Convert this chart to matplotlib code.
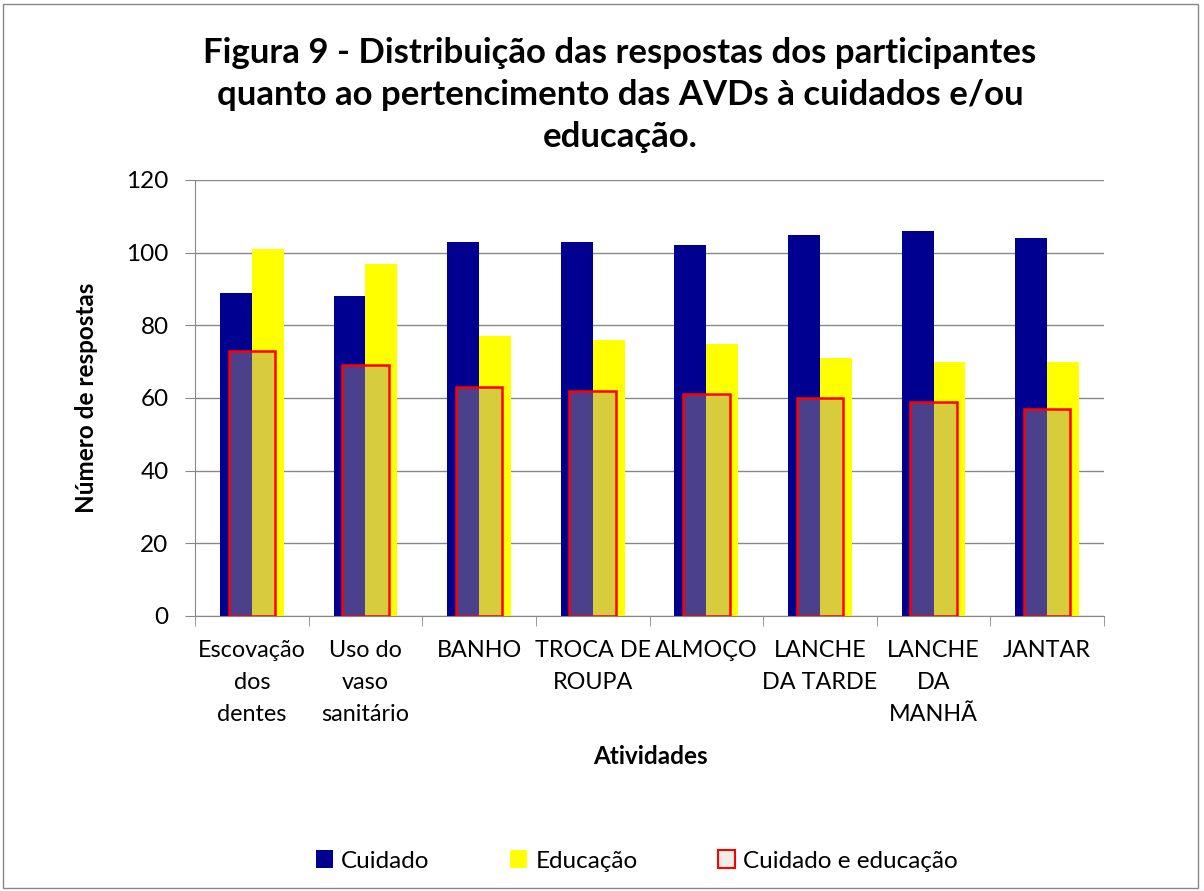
import matplotlib
matplotlib.use('Agg')
import matplotlib.pyplot as plt
import numpy as np
from matplotlib.patches import Rectangle, Patch

# Respostas por atividade
atividades = ['Escovação\ndos\ndentes', 'Uso do\nvaso\nsanitário', 'BANHO', 'TROCA DE\nROUPA',
              'ALMOÇO', 'LANCHE\nDA TARDE', 'LANCHE\nDA\nMANHÃ', 'JANTAR']
cuidado = [89, 88, 103, 103, 102, 105, 106, 104]
educacao = [101, 97, 77, 76, 75, 71, 70, 70]
cuidado_educacao = [73, 69, 63, 62, 61, 60, 59, 57]
yticks = [0, 20, 40, 60, 80, 100, 120]

plt.rcParams['font.family'] = ['Lato', 'DejaVu Sans']

fig = plt.figure(figsize=(12.04, 8.91), dpi=100)
ax = fig.add_axes([195 / 1204, 1 - 616 / 891, (1104 - 195) / 1204, (616 - 180) / 891])

x = np.arange(len(atividades))
w = 0.28
ax.bar(x - w / 2, cuidado, w, color='#000090', zorder=2)
ax.bar(x + w / 2, educacao, w, color='#FFFF00', zorder=2)
ax.bar(x, cuidado_educacao, 0.41, facecolor=(0.66, 0.56, 0.52, 0.45),
       edgecolor='#FF0000', linewidth=1.8, zorder=3)

ax.set_xlim(-0.5, len(atividades) - 0.5)
ax.set_ylim(0, 120)
ax.set_yticks(yticks)
ax.set_xticks(x)
ax.set_xticklabels(atividades, fontsize=16.8, linespacing=1.65)
ax.set_xticks(np.arange(-0.5, len(atividades)), minor=True)
ax.tick_params(axis='x', which='major', length=0, pad=17)
ax.tick_params(axis='x', which='minor', length=7, color='#888888')
ax.tick_params(axis='y', length=7, color='#888888', labelsize=17.5, pad=12)

ax.grid(axis='y', color='#888888', linewidth=1, zorder=0)
ax.set_axisbelow(True)
for s in ['top', 'right']:
    ax.spines[s].set_visible(False)
for s in ['left', 'bottom']:
    ax.spines[s].set_color('#888888')

ax.set_ylabel('Número de respostas', fontsize=17.5, fontweight='bold', labelpad=20)
fig.text(650 / 1204, 1 - 757 / 891, 'Atividades', ha='center', va='center',
         fontsize=17.5, fontweight='bold')

fig.text(620 / 1204, 1 - 95 / 891,
         'Figura 9 - Distribuição das respostas dos participantes\n'
         'quanto ao pertencimento das AVDs à cuidados e/ou\neducação.',
         ha='center', va='center', fontsize=25, fontweight='bold', linespacing=1.4)

handles = [Patch(facecolor='#000090', edgecolor='none'),
           Patch(facecolor='#FFFF00', edgecolor='none'),
           Patch(facecolor='#F2ECE6', edgecolor='#FF0000', linewidth=1.5)]
fig.legend(handles, ['Cuidado', 'Educação', 'Cuidado e educação'], loc='center',
           bbox_to_anchor=(637 / 1204, 1 - 861 / 891), ncol=3, frameon=False,
           fontsize=17.5, handlelength=0.7, handleheight=0.7, handletextpad=0.35,
           columnspacing=3.3)

fig.patches.append(Rectangle((3 / 1204, 3 / 891), 1195 / 1204, 884 / 891,
                             transform=fig.transFigure, fill=False,
                             edgecolor='#888888', linewidth=1))

fig.savefig('out.png', dpi=100, facecolor='white')
